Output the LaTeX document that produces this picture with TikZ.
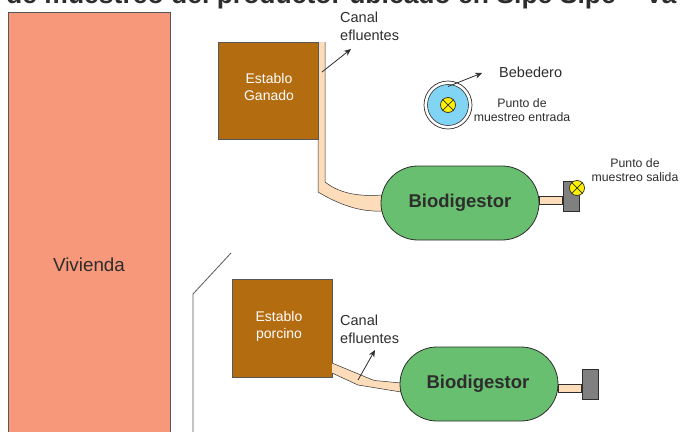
\documentclass[tikz,border=0pt]{standalone}
\usepackage{fontspec}
\setmainfont{Liberation Sans}
\usetikzlibrary{shapes.misc,arrows.meta}
\definecolor{vivcolor}{RGB}{248,152,122}
\definecolor{estcolor}{RGB}{180,108,16}
\definecolor{biocolor}{RGB}{105,191,112}
\definecolor{canalcolor}{RGB}{253,220,186}
\definecolor{aguacolor}{RGB}{130,212,245}
\definecolor{linecolor}{RGB}{45,45,45}
\tikzset{
    establo/.style={draw=linecolor!80,fill=estcolor,inner sep=0pt,line width=0.9pt},
    estexto/.style={text=white,font=\fontsize{14}{17}\selectfont,align=center,inner sep=0pt},
    biodig/.style={rounded rectangle,draw=linecolor,fill=biocolor,font=\fontsize{18.5}{22}\bfseries\selectfont,text=linecolor,minimum width=158pt,minimum height=74pt,inner sep=0pt,line width=0.8pt},
    canal/.style={draw=linecolor,fill=canalcolor,line width=0.5pt},
    tanque/.style={draw=linecolor,fill=black!50,inner sep=0pt,minimum width=16pt,minimum height=30pt,line width=0.8pt},
    valvula/.style={circle,draw=linecolor,fill=yellow,inner sep=0pt,line width=0.7pt},
    rotulo/.style={font=\fontsize{14.5}{18}\selectfont,text=linecolor,align=left,inner sep=0pt},
    punto/.style={font=\fontsize{12.3}{14.5}\selectfont,text=linecolor,align=center,inner sep=0pt},
    flecha/.style={-{Stealth[length=7pt,width=6pt]},linecolor,line width=0.8pt}
}
\begin{document}
\begin{tikzpicture}[x=1pt,y=-1pt]
    \useasboundingbox (0,0) rectangle (682,431);
    \clip (0,0) rectangle (682,431);

    % Title, cut by the top edge
    \node (titulo) [anchor=base west,inner sep=0pt,font=\fontsize{26.5}{28}\bfseries\selectfont,text=linecolor] at (6,4) {de muestreo del productor ubicado en Sipe Sipe – Va};

    % Vivienda
    \node (vivienda) [draw=linecolor!80,fill=vivcolor,line width=0.9pt,minimum width=162pt,minimum height=440pt,inner sep=0pt,anchor=north west] at (8,12) {};
    \node (vivtexto) [font=\fontsize{18.8}{20}\selectfont,text=linecolor,inner sep=0pt] at (89,265) {Vivienda};

    % Wall
    \coordinate (muroa) at (231,253);
    \coordinate (murob) at (193,294);
    \coordinate (muroc) at (193,440);
    \draw[linecolor!80,line width=0.8pt] (muroa) -- (murob) -- (muroc);

    % Upper canal and stable
    \draw[canal] (318,42) -- (318,192) .. controls (340,205) and (360,212) .. (382,211) -- (382,195) .. controls (355,197) and (338,192) .. (325,182) -- (325,42);
    \node (ganado) [establo,minimum width=100pt,minimum height=97pt,anchor=north west] at (218,42) {};
    \node (ganadotx) [estexto] at (269,87) {Establo\\Ganado};

    % Upper digester
    \node (biouno) [biodig] at (460,203) {Biodigestor};
    \node (tanqueuno) [tanque] at (571,196) {};
    \draw[canal] (biouno.east |- 0,196) rectangle (tanqueuno.west |- 0,204);
    \node (valvuno) [valvula,minimum size=15pt] at (577,188) {};
    \draw[linecolor,line width=0.7pt] (valvuno.north west) -- (valvuno.south east) (valvuno.north east) -- (valvuno.south west);
    \node (salida) [punto] at (635,170) {Punto de\\muestreo salida};

    % Bebedero
    \node (borde) [circle,draw=linecolor,fill=white,minimum size=48pt,inner sep=0pt,line width=0.7pt] at (448,105) {};
    \node (agua) [circle,draw=linecolor,fill=aguacolor,minimum size=41pt,inner sep=0pt,line width=0.6pt] at (448,105) {};
    \node (valvdos) [valvula,minimum size=15pt] at (448,105) {};
    \draw[linecolor,line width=0.7pt] (valvdos.north west) -- (valvdos.south east) (valvdos.north east) -- (valvdos.south west);
    \node (bebedero) [rotulo,anchor=west] at (499,72) {Bebedero};
    \node (entrada) [punto] at (522,110) {Punto de\\muestreo entrada};
    \coordinate (bebbase) at (448,86.5);
    \coordinate (bebpunta) at (482,73);
    \draw[flecha] (bebbase) -- (bebpunta);

    % Upper label
    \node (canaluno) [rotulo,anchor=north west] at (340,12) {Canal\\efluentes};
    \coordinate (canalbase) at (322,72);
    \coordinate (canalpunta) at (351,49);
    \draw[flecha] (canalbase) -- (canalpunta);

    % Lower canal and stable
    \node (porcino) [establo,minimum width=100pt,minimum height=98pt,anchor=north west] at (232,279) {};
    \node (porcinotx) [estexto] at (279,326.5) {Establo\\porcino};
    \draw[canal] (332,363) -- (368,378) .. controls (372,380) and (376,381) .. (380,381) -- (401,383) -- (401,392) -- (358,385) -- (332,373);

    % Lower digester
    \node (biodos) [biodig] at (479,384) {\hspace*{-2pt}Biodigestor};
    \node (tanquedos) [tanque] at (590,384.5) {};
    \draw[canal] (biodos.east |- 0,384) rectangle (tanquedos.west |- 0,392);

    % Lower label
    \node (canaldos) [rotulo,anchor=north west] at (340,315) {Canal\\efluentes};
    \coordinate (cdosbase) at (358,380);
    \coordinate (cdospunta) at (375,350);
    \draw[flecha] (cdosbase) -- (cdospunta);
\end{tikzpicture}
\end{document}
